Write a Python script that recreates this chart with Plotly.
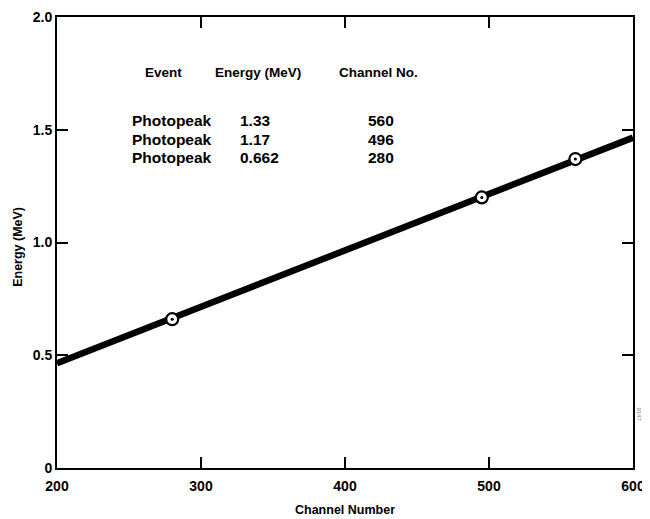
import plotly.graph_objects as go

# Calibration table (as printed on the chart)
events = ["Photopeak", "Photopeak", "Photopeak"]
table_energy = ["1.33", "1.17", "0.662"]
table_channel = ["560", "496", "280"]

# Plotted calibration points
point_channel = [280, 495, 560]
point_energy = [0.66, 1.20, 1.37]

# Calibration line end points
line_channel = [200, 600]
line_energy = [0.465, 1.465]

x_ticks = [200, 300, 400, 500, 600]
y_ticks = [0, 0.5, 1.0, 1.5, 2.0]
y_tick_labels = ["0", "0.5", "1.0", "1.5", "2.0"]

FONT = "Liberation Sans"

fig = go.Figure()
fig.add_trace(go.Scatter(x=line_channel, y=line_energy, mode="lines",
                         line=dict(color="black", width=6.5), hoverinfo="skip"))
fig.add_trace(go.Scatter(x=point_channel, y=point_energy, mode="markers",
                         marker=dict(symbol="circle", size=12, color="white",
                                     line=dict(color="black", width=2.2))))
fig.add_trace(go.Scatter(x=point_channel, y=point_energy, mode="markers",
                         marker=dict(symbol="circle", size=3, color="black")))

axis_common = dict(showgrid=False, zeroline=False, showline=True, linecolor="black",
                   linewidth=2, mirror="ticks", ticks="inside", ticklen=11,
                   tickwidth=2, tickcolor="black", automargin=False,
                   tickfont=dict(family=FONT, size=14, color="black", weight="bold"))

fig.update_xaxes(range=[200, 600], tickvals=x_ticks, ticktext=[str(v) for v in x_ticks],
                 ticklabelstandoff=4, **axis_common)
fig.update_yaxes(range=[0, 2.0], tickvals=y_ticks, ticktext=y_tick_labels,
                 **axis_common)

annotations = []
# axis titles
annotations.append(dict(x=0.5, y=-0.093, xref="paper", yref="paper", yanchor="middle",
                        text="Channel Number", showarrow=False,
                        font=dict(family=FONT, size=12.5, color="black", weight="bold")))
annotations.append(dict(x=-0.068, y=0.49, xref="paper", yref="paper", xanchor="center",
                        text="Energy (MeV)", showarrow=False, textangle=-90,
                        font=dict(family=FONT, size=12.5, color="black", weight="bold")))

# table headers
hdr_font = dict(family=FONT, size=13.5, color="black", weight="bold")
row_font = dict(family=FONT, size=15.5, color="black", weight="bold")
hdr_y = 1.752
for xv, txt in [(274, "Event"), (339.5, "Energy (MeV)"), (423, "Channel No.")]:
    annotations.append(dict(x=xv, y=hdr_y, xref="x", yref="y", text=txt, showarrow=False,
                            font=hdr_font))
row_y = [1.543, 1.459, 1.379]
for i in range(3):
    annotations.append(dict(x=251, y=row_y[i], xref="x", yref="y", xanchor="left",
                            text=events[i], showarrow=False, font=row_font))
    annotations.append(dict(x=326, y=row_y[i], xref="x", yref="y", xanchor="left",
                            text=table_energy[i], showarrow=False, font=row_font))
    annotations.append(dict(x=425, y=row_y[i], xref="x", yref="y", xanchor="center",
                            text=table_channel[i], showarrow=False, font=row_font))

# small scanned figure ID on the right margin
annotations.append(dict(x=1.02, y=0.1, xref="paper", yref="paper", text="9147",
                        showarrow=False, textangle=90,
                        font=dict(family=FONT, size=6, color="#777777")))

# page body has an 8px margin; shrink figure so the plot area lands where the reference has it
fig.update_layout(width=642, height=511, showlegend=False,
                  plot_bgcolor="white", paper_bgcolor="white",
                  margin=dict(l=49, r=17, t=9, b=51, autoexpand=False),
                  annotations=annotations)

fig.write_html("out.html")
